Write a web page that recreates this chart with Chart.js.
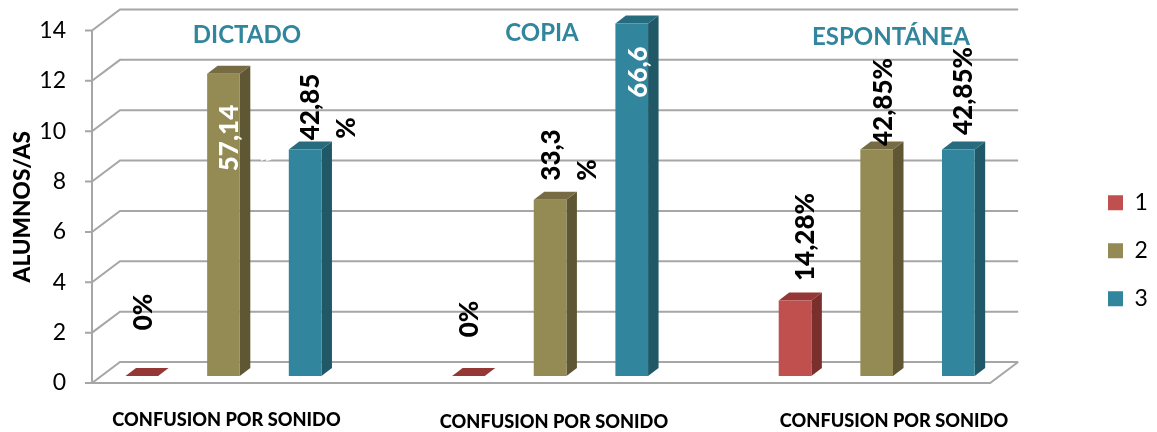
<!DOCTYPE html>
<html>
<head>
<meta charset="utf-8">
<style>html,body{margin:0;padding:0;background:#fff}canvas{display:block}</style>
<script src="https://cdn.jsdelivr.net/npm/chart.js@4/dist/chart.umd.min.js"></script>
</head>
<body>
<canvas id="c" width="1157" height="432"></canvas>
<script>
const categories = ['1','2','3','','1','2','3','','1','2','3'];
const series1 = [0,null,null,null,0,null,null,null,3,null,null];
const series2 = [null,12,null,null,null,7,null,null,null,9,null];
const series3 = [null,null,9,null,null,null,14,null,null,null,9];
const seriesNames = ['1','2','3'];
const yTicks = [0,2,4,6,8,10,12,14];
const panelTitles = ['DICTADO','COPIA','ESPONTÁNEA'];
const xCaption = 'CONFUSION POR SONIDO';
const yCaption = 'ALUMNOS/AS';
const valueTexts = ['0%','57,14','42,85','%','0%','33,3','%','66,6','14,28%','42,85%','42,85%'];

const FONT = 'Lato, sans-serif';
const valueStyle = [
  [144,312,'#000'],[230,138,'#fff'],[311,107,'#000'],[347,128,'#000'],
  [470,319,'#000'],[552,155,'#000'],[588,170,'#000'],[639,72,'#fff'],
  [806,237,'#000'],[884,102,'#000'],[964,91,'#000']
];
const titleStyle = [[247,35],[542,33],[891,37]];
const captionStyle = [[226.5,420],[554,422],[894,421]];
const faces = [
  {front:'#C0504D',side:'#7B2F2D',top:'#953735'},
  {front:'#948A54',side:'#5F5733',top:'#766B42'},
  {front:'#31859C',side:'#205867',top:'#266B7E'}
];
const WALL = {dx:28,dy:21}, BAR = {dx:9,dy:7,depthX:10.5,depthY:8};
const GRID = '#A6A6A6';

function poly(ctx,pts,fill){
  ctx.beginPath();
  pts.forEach((p,i)=>i?ctx.lineTo(p[0],p[1]):ctx.moveTo(p[0],p[1]));
  ctx.closePath(); ctx.fillStyle=fill; ctx.fill();
}
const chart3d = {
  id:'chart3d',
  afterLayout(chart){
    const lg = chart.legend;
    const w = lg.right-lg.left;
    lg.left = 1083; lg.right = lg.left+w;
    const shift = 44;
    lg.top += shift; lg.bottom += shift;
  },
  beforeDatasetsDraw(chart){
    const {ctx,chartArea:a,scales:{y}} = chart;
    ctx.save();
    ctx.strokeStyle = GRID; ctx.lineWidth = 2; ctx.lineCap='butt';
    yTicks.forEach(v=>{
      const py = y.getPixelForValue(v);
      ctx.beginPath();
      ctx.moveTo(a.left-7,py); ctx.lineTo(a.left,py);
      ctx.lineTo(a.left+WALL.dx,py-WALL.dy);
      ctx.lineTo(a.right+WALL.dx,py-WALL.dy);
      ctx.stroke();
    });
    ctx.beginPath();
    ctx.moveTo(a.left,a.top); ctx.lineTo(a.left,a.bottom); ctx.lineTo(a.right,a.bottom);
    ctx.lineTo(a.right+WALL.dx,a.bottom-WALL.dy);
    ctx.stroke();
    ctx.restore();
  },
  beforeDatasetDraw(chart,args){
    const {ctx} = chart, f = faces[args.index];
    const values = chart.data.datasets[args.index].data;
    ctx.save();
    ctx.translate(BAR.dx,-BAR.dy);
    args.meta.data.forEach((el,i)=>{
      if(values[i]===null) return;
      const {x,y,base,width} = el.getProps(['x','y','base','width'],true);
      const l=x-width/2,r=x+width/2,dx=BAR.depthX,dy=BAR.depthY;
      poly(ctx,[[r,y],[r+dx,y-dy],[r+dx,base-dy],[r,base]],f.side);
      poly(ctx,[[l,y],[l+dx,y-dy],[r+dx,y-dy],[r,y]],f.top);
    });
  },
  afterDatasetDraw(chart){ chart.ctx.restore(); },
  afterDraw(chart){
    const {ctx} = chart;
    ctx.save();
    ctx.strokeStyle='#fff'; ctx.lineWidth=2;
    ctx.beginPath(); ctx.moveTo(261,160); ctx.lineTo(265,158); ctx.moveTo(266,160); ctx.lineTo(271,159); ctx.stroke();
    ctx.textAlign='center'; ctx.textBaseline='middle';
    ctx.fillStyle='#31859C'; ctx.font='bold 24px '+FONT;
    panelTitles.forEach((t,i)=>ctx.fillText(t,titleStyle[i][0],titleStyle[i][1]));
    ctx.fillStyle='#000'; ctx.font='900 18.2px '+FONT;
    captionStyle.forEach(p=>ctx.fillText(xCaption,p[0],p[1]));
    ctx.font='900 26px '+FONT;
    valueTexts.forEach((t,i)=>{
      const [x,y,c]=valueStyle[i];
      ctx.save(); ctx.translate(x,y); ctx.rotate(-Math.PI/2);
      ctx.fillStyle=c; ctx.fillText(t,0,0); ctx.restore();
    });
    ctx.restore();
  }
};

new Chart(document.getElementById('c'),{
  type:'bar',
  data:{labels:categories,datasets:[series1,series2,series3].map((d,i)=>({
    label:seriesNames[i],data:d,backgroundColor:faces[i].front,borderWidth:0,clip:false,
    barPercentage:0.4,categoryPercentage:1
  }))},
  options:{
    responsive:false,animation:false,
    layout:{padding:{left:0,top:30.5,right:92,bottom:49}},
    plugins:{
      tooltip:{enabled:false},
      legend:{position:'right',labels:{boxWidth:15,boxHeight:15,padding:25,color:'#000',font:{family:FONT,size:23}}}
    },
    scales:{
      x:{stacked:true,grid:{display:false,drawTicks:false},border:{display:false},ticks:{display:false},
        afterFit(s){s.height=0;s.paddingLeft=0;s.paddingRight=0;}},
      y:{stacked:true,min:0,max:14,
        grid:{display:false,drawTicks:false},border:{display:false},
        afterBuildTicks(s){s.ticks=yTicks.map(v=>({value:v}));},
        ticks:{padding:26,color:'#000',font:{family:FONT,size:23}},
        title:{display:true,text:yCaption,color:'#000',font:{family:FONT,size:22.6,weight:'900'},padding:{top:9,bottom:0}},
        afterFit(s){s.width=92;s.paddingTop=0;s.paddingBottom=0;}
      }
    }
  },
  plugins:[chart3d]
});
</script>
</body>
</html>
